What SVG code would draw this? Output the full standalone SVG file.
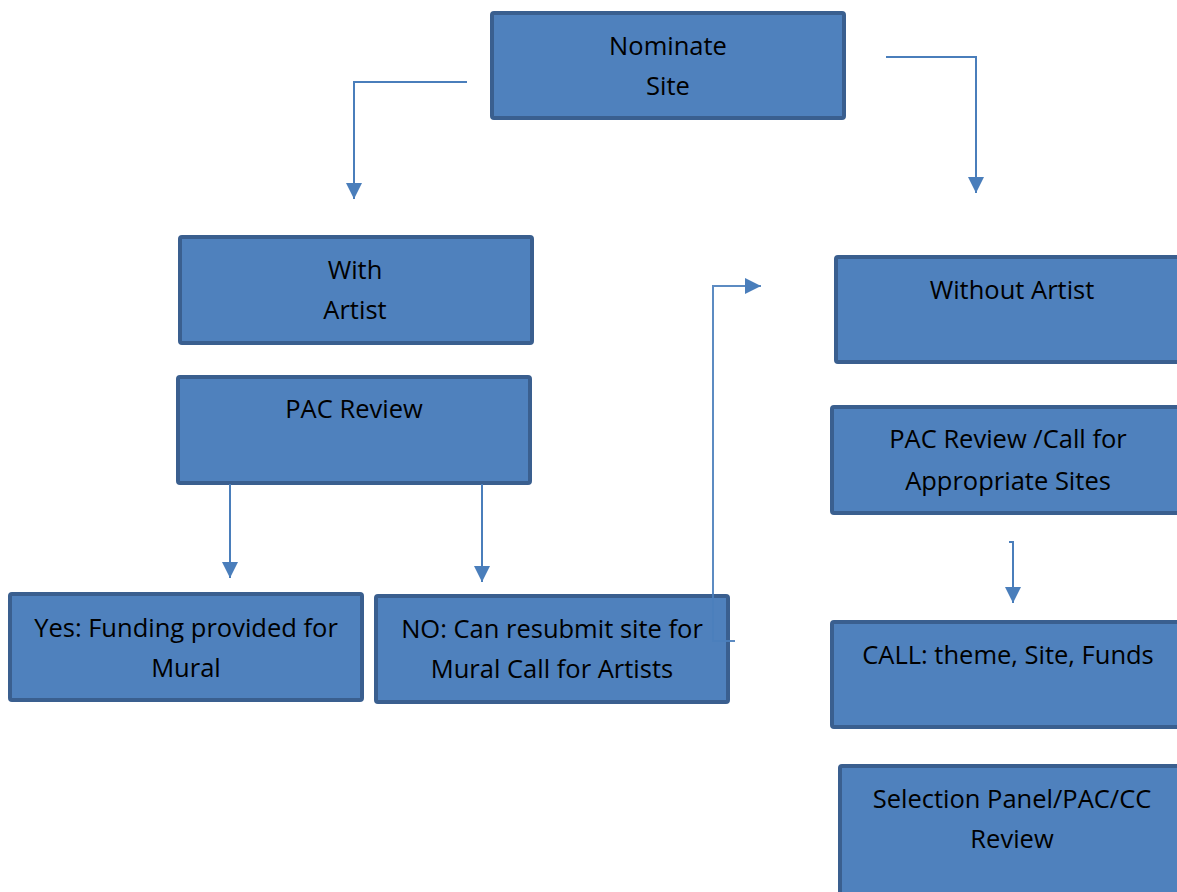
<svg xmlns="http://www.w3.org/2000/svg" width="1177" height="892" viewBox="0 0 1177 892">
<style>
.box{fill:#4F81BD;stroke:#3A5F8F;stroke-width:4}
.t{font-family:"Open Sans","Noto Sans",sans-serif;font-size:25.5px;fill:#000;text-anchor:middle}
.c{fill:none;stroke:#4A7EBB;stroke-width:2}
</style>
<defs>
<marker id="ah" viewBox="0 0 10 10" refX="10" refY="5" markerWidth="16" markerHeight="16" markerUnits="userSpaceOnUse" orient="auto">
<path d="M0,0 L10,5 L0,10 Z" fill="#4A7EBB"/>
</marker>
</defs>
<rect width="1177" height="892" fill="#fff"/>
<g id="nominate">
<rect class="box" x="492" y="13" width="352" height="105" rx="2"/>
<text class="t" x="668" y="55">Nominate</text>
<text class="t" x="668" y="95">Site</text>
</g>
<g id="with-artist">
<rect class="box" x="180" y="237" width="352" height="106" rx="2"/>
<text class="t" x="355" y="279">With</text>
<text class="t" x="355" y="319">Artist</text>
</g>
<g id="pac-review">
<rect class="box" x="178" y="377" width="352" height="106" rx="2"/>
<text class="t" x="354" y="418">PAC Review</text>
</g>
<g id="yes">
<rect class="box" x="10" y="594" width="352" height="106" rx="2"/>
<text class="t" x="186" y="637">Yes: Funding provided for</text>
<text class="t" x="186" y="677">Mural</text>
</g>
<g id="no">
<rect class="box" x="376" y="596" width="352" height="106" rx="2"/>
<text class="t" x="552" y="638">NO: Can resubmit site for</text>
<text class="t" x="552" y="678">Mural Call for Artists</text>
</g>
<g id="without-artist">
<rect class="box" x="836" y="257" width="352" height="105" rx="2"/>
<text class="t" x="1012" y="299">Without Artist</text>
</g>
<g id="pac-call">
<rect class="box" x="832" y="407" width="352" height="106" rx="2"/>
<text class="t" x="1008" y="448">PAC Review /Call for</text>
<text class="t" x="1008" y="490">Appropriate Sites</text>
</g>
<g id="call">
<rect class="box" x="832" y="622" width="352" height="105" rx="2"/>
<text class="t" x="1008" y="664">CALL: theme, Site, Funds</text>
</g>
<g id="selection">
<rect class="box" x="840" y="766" width="352" height="140" rx="2"/>
<text class="t" x="1012" y="808">Selection Panel/PAC/CC</text>
<text class="t" x="1012" y="848">Review</text>
</g>
<g id="connectors">
<path class="c" d="M467,82 H354 V199" marker-end="url(#ah)"/>
<path class="c" d="M886,57 H976 V193" marker-end="url(#ah)"/>
<path class="c" d="M230,484 V578" marker-end="url(#ah)"/>
<path class="c" d="M482,484 V582" marker-end="url(#ah)"/>
<path class="c" d="M735,641 H713 V286 H761" marker-end="url(#ah)" stroke-opacity="0.9"/>
<path class="c" d="M1009,542 H1013 V603" marker-end="url(#ah)"/>
</g>
</svg>
